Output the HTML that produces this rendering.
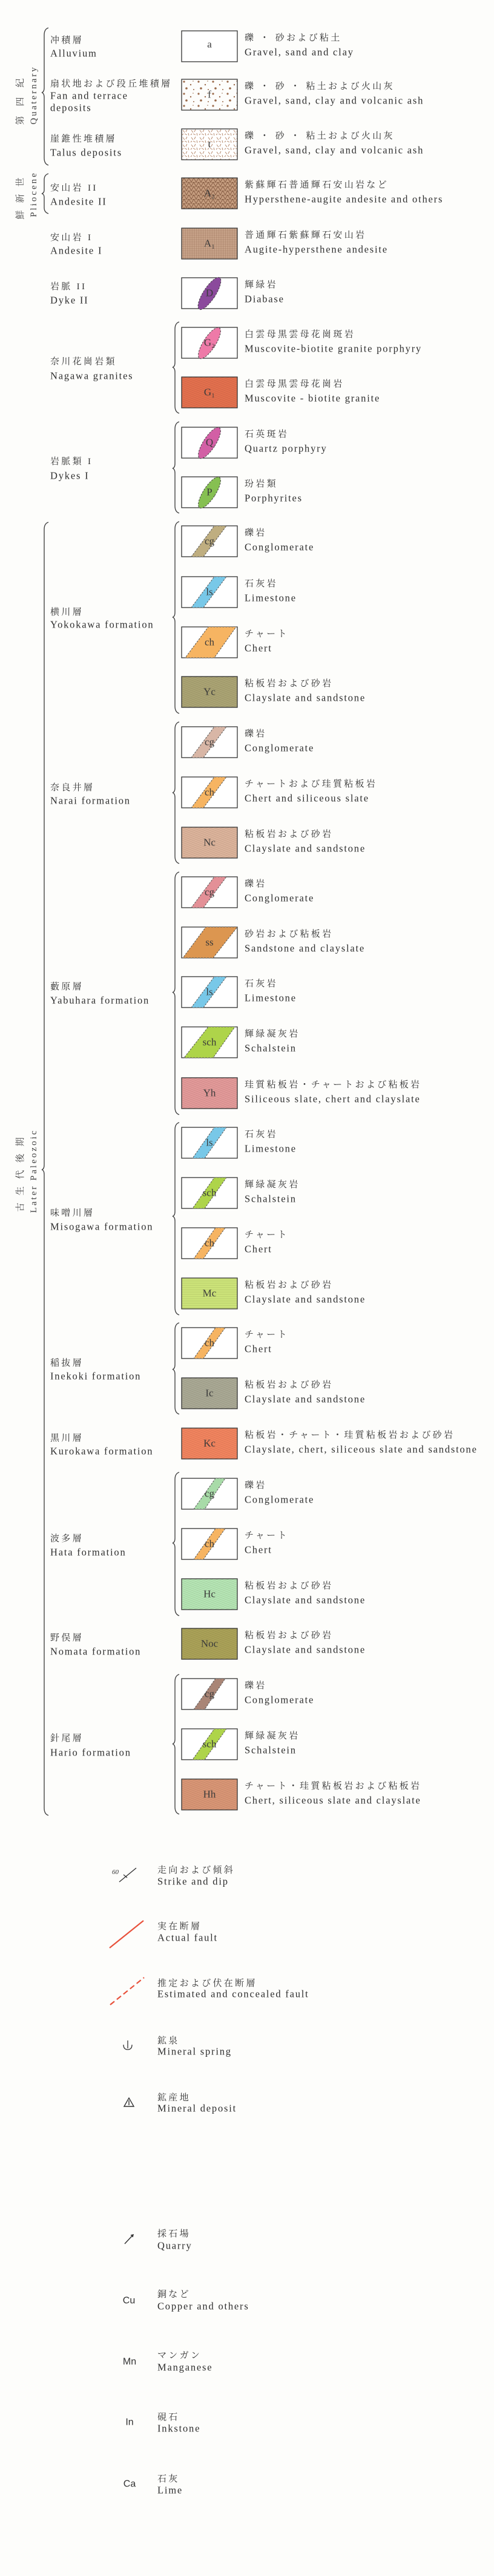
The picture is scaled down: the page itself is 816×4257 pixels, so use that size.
<!DOCTYPE html>
<html><head><meta charset="utf-8">
<style>
html,body{margin:0;padding:0;background:#fdfdfb;}
svg{display:block;}
.en{font-family:"Liberation Serif",serif;font-size:16.5px;letter-spacing:1.8px;fill:#2e2e2e;}
.jp{font-family:"Liberation Serif","Noto Serif CJK SC","Noto Sans CJK JP",serif;font-size:15px;letter-spacing:3.3px;fill:#333;}
.bl{font-family:"Liberation Serif",serif;font-size:17px;fill:#3a3a3a;text-anchor:middle;}
.vt{font-family:"Liberation Serif","Noto Serif CJK SC",serif;font-size:15px;fill:#444;text-anchor:middle;}
.sy{font-family:"Liberation Sans",sans-serif;font-size:16px;fill:#333;text-anchor:middle;}
.br{fill:none;stroke:#444;stroke-width:1.4;}
.bx{stroke:#333;stroke-width:1.3;}
</style></head>
<body>
<svg width="816" height="4257" viewBox="0 0 816 4257" xmlns="http://www.w3.org/2000/svg" dominant-baseline="central">
<defs>
<pattern id="dots" width="24" height="20" patternUnits="userSpaceOnUse">
<circle cx="4" cy="4" r="1.6" fill="#9a6a4a"/><circle cx="15" cy="9" r="1.2" fill="#9a6a4a"/><circle cx="8" cy="15" r="1.8" fill="#9a6a4a"/><circle cx="20" cy="17" r="1" fill="#9a6a4a"/><circle cx="19" cy="3" r="0.8" fill="#9a6a4a"/></pattern>
<pattern id="dash" width="14" height="12" patternUnits="userSpaceOnUse">
<path d="M2 2 l3 4 M9 1 l-2 4 M5 8 l4 2 M11 7 l1 4 M1 10 l2 -2" stroke="#b08060" stroke-width="0.9"/></pattern>
<pattern id="tri" width="8" height="7" patternUnits="userSpaceOnUse">
<path d="M0 7 L4 0 L8 7 M0 0 H8" stroke="#7a5038" stroke-width="0.8" fill="none"/></pattern>
<pattern id="grid" width="3" height="3" patternUnits="userSpaceOnUse">
<path d="M0 0 H3 M0 0 V3" stroke="#8a6048" stroke-width="0.6" fill="none"/></pattern>
<pattern id="hatch" width="3" height="3" patternUnits="userSpaceOnUse" patternTransform="rotate(70)">
<path d="M0 0 V3" stroke="rgba(60,40,20,0.28)" stroke-width="0.8"/></pattern>
<pattern id="hz" width="3" height="3" patternUnits="userSpaceOnUse">
<path d="M0 0 H3" stroke="rgba(60,60,20,0.3)" stroke-width="0.8"/></pattern>
</defs>

<path class="br" d="M80 46 Q73 48 73 58 L73 145 Q73 152 69 153 Q73 154 73 161 L73 261 Q73 271 80 273"/>
<path class="br" d="M80 287 Q73 289 73 297 L73 314 Q73 319 69 320 Q73 321 73 326 L73 343 Q73 351 80 353"/>
<path class="br" d="M80 863 Q73 865 73 875 L73 1925 Q73 1932 69 1933 Q73 1934 73 1941 L73 2988 Q73 2998 80 3000"/>

<path class="br" d="M296 532 Q289 534 289 544 L289 599 Q289 606 285 607 Q289 608 289 615 L289 671 Q289 681 296 683"/>
<path class="br" d="M296 697 Q289 699 289 709 L289 766 Q289 773 285 774 Q289 775 289 782 L289 836 Q289 846 296 848"/>
<path class="br" d="M296 862 Q289 864 289 874 L289 1012 Q289 1019 285 1020 Q289 1021 289 1028 L289 1167 Q289 1177 296 1179"/>
<path class="br" d="M296 1193 Q289 1195 289 1205 L289 1302 Q289 1309 285 1310 Q289 1311 289 1318 L289 1415 Q289 1425 296 1427"/>
<path class="br" d="M296 1441 Q289 1443 289 1453 L289 1632 Q289 1639 285 1640 Q289 1641 289 1648 L289 1830 Q289 1840 296 1842"/>
<path class="br" d="M296 1855 Q289 1857 289 1867 L289 2002 Q289 2009 285 2010 Q289 2011 289 2018 L289 2161 Q289 2171 296 2173"/>
<path class="br" d="M296 2186 Q289 2188 289 2198 L289 2255 Q289 2262 285 2263 Q289 2264 289 2271 L289 2325 Q289 2335 296 2337"/>
<path class="br" d="M296 2433 Q289 2435 289 2445 L289 2542 Q289 2549 285 2550 Q289 2551 289 2558 L289 2658 Q289 2668 296 2670"/>
<path class="br" d="M296 2767 Q289 2769 289 2779 L289 2874 Q289 2881 285 2882 Q289 2883 289 2890 L289 2986 Q289 2996 296 2998"/>

<text class="vt" transform="translate(34,160) rotate(-90)" letter-spacing="16">第四紀</text>
<text class="vt" transform="translate(56,157) rotate(-90)" letter-spacing="3" font-size="16">Quaternary</text>
<text class="vt" transform="translate(34,322) rotate(-90)" letter-spacing="12">鮮新世</text>
<text class="vt" transform="translate(56,321) rotate(-90)" letter-spacing="3" font-size="16">Pliocene</text>
<text class="vt" transform="translate(34,1935) rotate(-90)" letter-spacing="12">古生代後期</text>
<text class="vt" transform="translate(56,1935) rotate(-90)" letter-spacing="3" font-size="16">Later  Paleozoic</text>

<text class="jp" x="83" y="67" letter-spacing="18">冲積層</text><text class="en" x="83" y="88">Alluvium</text>
<text class="jp" x="83" y="139" letter-spacing="3">扇状地および段丘堆積層</text><text class="en" x="83" y="158">Fan  and  terrace</text><text class="en" x="83" y="178">deposits</text>
<text class="jp" x="83" y="230" letter-spacing="6">崖錐性堆積層</text><text class="en" x="83" y="252">Talus  deposits</text>
<text class="jp" x="83" y="311" letter-spacing="13">安山岩 II</text><text class="en" x="83" y="333">Andesite  II</text>
<text class="jp" x="83" y="393" letter-spacing="13">安山岩 I</text><text class="en" x="83" y="414">Andesite  I</text>
<text class="jp" x="83" y="474" letter-spacing="13">岩脈 II</text><text class="en" x="83" y="496">Dyke  II</text>
<text class="jp" x="83" y="598" letter-spacing="6">奈川花崗岩類</text><text class="en" x="83" y="621">Nagawa  granites</text>
<text class="jp" x="83" y="763" letter-spacing="13">岩脈類 I</text><text class="en" x="83" y="786">Dykes  I</text>
<text class="jp" x="83" y="1012" letter-spacing="18">横川層</text><text class="en" x="83" y="1032">Yokokawa  formation</text>
<text class="jp" x="83" y="1302" letter-spacing="13">奈良井層</text><text class="en" x="83" y="1323">Narai  formation</text>
<text class="jp" x="83" y="1631" letter-spacing="16">藪原層</text><text class="en" x="83" y="1653">Yabuhara  formation</text>
<text class="jp" x="83" y="2005" letter-spacing="13">味噌川層</text><text class="en" x="83" y="2027">Misogawa  formation</text>
<text class="jp" x="83" y="2253" letter-spacing="16">稲抜層</text><text class="en" x="83" y="2274">Inekoki  formation</text>
<text class="jp" x="83" y="2377" letter-spacing="18">黒川層</text><text class="en" x="83" y="2398">Kurokawa  formation</text>
<text class="jp" x="83" y="2543" letter-spacing="17">波多層</text><text class="en" x="83" y="2565">Hata  formation</text>
<text class="jp" x="83" y="2707" letter-spacing="17">野俣層</text><text class="en" x="83" y="2729">Nomata  formation</text>
<text class="jp" x="83" y="2873" letter-spacing="17">針尾層</text><text class="en" x="83" y="2896">Hario  formation</text>

<g transform="translate(300,51)"><rect class="bx" width="92" height="51" fill="#fff"/><text class="bl" x="46" y="22">a</text></g>
<g transform="translate(300,131)"><rect class="bx" width="92" height="51" fill="url(#dots)"/><text class="bl" x="46" y="25">f</text></g>
<g transform="translate(300,213)"><rect width="92" height="51" fill="#fff"/><rect class="bx" width="92" height="51" fill="url(#dash)"/><text class="bl" x="46" y="25">t</text></g>
<g transform="translate(300,294)"><rect width="92" height="51" fill="#c49c7e"/><rect class="bx" width="92" height="51" fill="url(#tri)"/><text class="bl" x="46" y="25">A₂</text></g>
<g transform="translate(300,377)"><rect width="92" height="51" fill="#caa68c"/><rect class="bx" width="92" height="51" fill="url(#grid)"/><text class="bl" x="46" y="25">A₁</text></g>
<g transform="translate(300,459)"><rect class="bx" width="92" height="51" fill="#fff"/><ellipse cx="46" cy="26" rx="10" ry="31" transform="rotate(33 46 26)" fill="#8b4a9c" stroke="#444" stroke-dasharray="3 2"/><text class="bl" x="46" y="25">D</text></g>
<g transform="translate(300,541)"><rect class="bx" width="92" height="51" fill="#fff"/><ellipse cx="46" cy="26" rx="10" ry="30" transform="rotate(33 46 26)" fill="#ee7aa8" stroke="#444" stroke-dasharray="3 2"/><text class="bl" x="46" y="25">G₂</text></g>
<g transform="translate(300,623)"><rect width="92" height="51" fill="#e4704e"/><rect class="bx" width="92" height="51" fill="url(#hatch)"/><text class="bl" x="46" y="25">G₁</text></g>
<g transform="translate(300,706)"><rect class="bx" width="92" height="51" fill="#fff"/><ellipse cx="46" cy="26" rx="10" ry="30" transform="rotate(33 46 26)" fill="#d25fa5" stroke="#444" stroke-dasharray="3 2"/><text class="bl" x="46" y="25">Q</text></g>
<g transform="translate(300,788)"><rect class="bx" width="92" height="51" fill="#fff"/><ellipse cx="46" cy="26" rx="10" ry="30" transform="rotate(33 46 26)" fill="#86c052" stroke="#444" stroke-dasharray="3 2"/><text class="bl" x="46" y="25">P</text></g>

<g transform="translate(300,869)"><rect class="bx" width="92" height="51" fill="#fff"/><polygon points="16,51 36,51 74,0 54,0" fill="#bfae80" stroke="#555" stroke-dasharray="3 2"/><text class="bl" x="46" y="25">cg</text></g>
<g transform="translate(300,953)"><rect class="bx" width="92" height="51" fill="#fff"/><polygon points="16,51 36,51 74,0 54,0" fill="#78c8e8" stroke="#555" stroke-dasharray="3 2"/><text class="bl" x="46" y="25">ls</text></g>
<g transform="translate(300,1036)"><rect class="bx" width="92" height="51" fill="#fff"/><polygon points="6,51 54,51 90,0 44,0" fill="#f6b462" stroke="#555" stroke-dasharray="3 2"/><text class="bl" x="46" y="25">ch</text></g>
<g transform="translate(300,1118)"><rect width="92" height="51" fill="#aaa474"/><rect class="bx" width="92" height="51" fill="url(#hatch)"/><text class="bl" x="46" y="25">Yc</text></g>
<g transform="translate(300,1201)"><rect class="bx" width="92" height="51" fill="#fff"/><polygon points="16,51 36,51 74,0 54,0" fill="#d8b6a6" stroke="#555" stroke-dasharray="3 2"/><text class="bl" x="46" y="25">cg</text></g>
<g transform="translate(300,1284)"><rect class="bx" width="92" height="51" fill="#fff"/><polygon points="16,51 36,51 74,0 54,0" fill="#f6b462" stroke="#555" stroke-dasharray="3 2"/><text class="bl" x="46" y="25">ch</text></g>
<g transform="translate(300,1367)"><rect width="92" height="51" fill="#dcb49c"/><rect class="bx" width="92" height="51" fill="url(#hatch)"/><text class="bl" x="46" y="25">Nc</text></g>
<g transform="translate(300,1449)"><rect class="bx" width="92" height="51" fill="#fff"/><polygon points="16,51 36,51 74,0 54,0" fill="#e39097" stroke="#555" stroke-dasharray="3 2"/><text class="bl" x="46" y="25">cg</text></g>
<g transform="translate(300,1532)"><rect class="bx" width="92" height="51" fill="#fff"/><polygon points="2,51 52,51 92,0 40,0" fill="#dc9650" stroke="#555" stroke-dasharray="3 2"/><text class="bl" x="46" y="25">ss</text></g>
<g transform="translate(300,1614)"><rect class="bx" width="92" height="51" fill="#fff"/><polygon points="16,51 36,51 74,0 54,0" fill="#78c8e8" stroke="#555" stroke-dasharray="3 2"/><text class="bl" x="46" y="25">ls</text></g>
<g transform="translate(300,1697)"><rect class="bx" width="92" height="51" fill="#fff"/><polygon points="4,51 52,51 88,0 44,0" fill="#aed44a" stroke="#555" stroke-dasharray="3 2"/><text class="bl" x="46" y="25">sch</text></g>
<g transform="translate(300,1781)"><rect width="92" height="51" fill="#e39a9a"/><rect class="bx" width="92" height="51" fill="url(#hatch)"/><text class="bl" x="46" y="25">Yh</text></g>
<g transform="translate(300,1863)"><rect class="bx" width="92" height="51" fill="#fff"/><polygon points="18,51 38,51 74,0 54,0" fill="#78c8e8" stroke="#555" stroke-dasharray="3 2"/><text class="bl" x="46" y="25">ls</text></g>
<g transform="translate(300,1946)"><rect class="bx" width="92" height="51" fill="#fff"/><polygon points="18,51 38,51 74,0 54,0" fill="#aed44a" stroke="#555" stroke-dasharray="3 2"/><text class="bl" x="46" y="25">sch</text></g>
<g transform="translate(300,2029)"><rect class="bx" width="92" height="51" fill="#fff"/><polygon points="20,51 36,51 72,0 56,0" fill="#f6b462" stroke="#555" stroke-dasharray="3 2"/><text class="bl" x="46" y="25">ch</text></g>
<g transform="translate(300,2112)"><rect width="92" height="51" fill="#cde57a"/><rect class="bx" width="92" height="51" fill="url(#hz)"/><text class="bl" x="46" y="25">Mc</text></g>
<g transform="translate(300,2194)"><rect class="bx" width="92" height="51" fill="#fff"/><polygon points="20,51 36,51 72,0 56,0" fill="#f6b462" stroke="#555" stroke-dasharray="3 2"/><text class="bl" x="46" y="25">ch</text></g>
<g transform="translate(300,2277)"><rect width="92" height="51" fill="#a9a995"/><rect class="bx" width="92" height="51" fill="url(#hatch)"/><text class="bl" x="46" y="25">Ic</text></g>
<g transform="translate(300,2360)"><rect width="92" height="51" fill="#f2845f"/><rect class="bx" width="92" height="51" fill="url(#hatch)"/><text class="bl" x="46" y="25">Kc</text></g>
<g transform="translate(300,2443)"><rect class="bx" width="92" height="51" fill="#fff"/><polygon points="20,51 38,51 72,0 56,0" fill="#a8dba8" stroke="#555" stroke-dasharray="3 2"/><text class="bl" x="46" y="25">cg</text></g>
<g transform="translate(300,2526)"><rect class="bx" width="92" height="51" fill="#fff"/><polygon points="20,51 36,51 72,0 56,0" fill="#f6b462" stroke="#555" stroke-dasharray="3 2"/><text class="bl" x="46" y="25">ch</text></g>
<g transform="translate(300,2609)"><rect width="92" height="51" fill="#b5e6b5"/><rect class="bx" width="92" height="51" fill="url(#hatch)"/><text class="bl" x="46" y="25">Hc</text></g>
<g transform="translate(300,2691)"><rect width="92" height="51" fill="#aaa258"/><rect class="bx" width="92" height="51" fill="url(#hatch)"/><text class="bl" x="46" y="25">Noc</text></g>
<g transform="translate(300,2774)"><rect class="bx" width="92" height="51" fill="#fff"/><polygon points="20,51 38,51 72,0 56,0" fill="#a98576" stroke="#555" stroke-dasharray="3 2"/><text class="bl" x="46" y="25">cg</text></g>
<g transform="translate(300,2857)"><rect class="bx" width="92" height="51" fill="#fff"/><polygon points="18,51 38,51 74,0 54,0" fill="#aed44a" stroke="#555" stroke-dasharray="3 2"/><text class="bl" x="46" y="25">sch</text></g>
<g transform="translate(300,2940)"><rect width="92" height="51" fill="#d99676"/><rect class="bx" width="92" height="51" fill="url(#hatch)"/><text class="bl" x="46" y="25">Hh</text></g>

<g>
<text class="jp" x="404" y="63">礫 ・ 砂および粘土</text><text class="en" x="404" y="86">Gravel, sand and clay</text>
<text class="jp" x="404" y="143">礫 ・ 砂 ・ 粘土および火山灰</text><text class="en" x="404" y="166">Gravel, sand, clay and volcanic ash</text>
<text class="jp" x="404" y="225">礫 ・ 砂 ・ 粘土および火山灰</text><text class="en" x="404" y="248">Gravel, sand, clay and volcanic ash</text>
<text class="jp" x="404" y="306">紫蘇輝石普通輝石安山岩など</text><text class="en" x="404" y="329">Hypersthene-augite andesite and others</text>
<text class="jp" x="404" y="389">普通輝石紫蘇輝石安山岩</text><text class="en" x="404" y="412">Augite-hypersthene andesite</text>
<text class="jp" x="404" y="471" letter-spacing="14">輝緑岩</text><text class="en" x="404" y="494">Diabase</text>
<text class="jp" x="404" y="553">白雲母黒雲母花崗斑岩</text><text class="en" x="404" y="576">Muscovite-biotite granite porphyry</text>
<text class="jp" x="404" y="635">白雲母黒雲母花崗岩</text><text class="en" x="404" y="658">Muscovite - biotite granite</text>
<text class="jp" x="404" y="718" letter-spacing="14">石英斑岩</text><text class="en" x="404" y="741">Quartz porphyry</text>
<text class="jp" x="404" y="800" letter-spacing="14">玢岩類</text><text class="en" x="404" y="823">Porphyrites</text>
<text class="jp" x="404" y="881" letter-spacing="22">礫岩</text><text class="en" x="404" y="904">Conglomerate</text>
<text class="jp" x="404" y="965" letter-spacing="14">石灰岩</text><text class="en" x="404" y="988">Limestone</text>
<text class="jp" x="404" y="1048" letter-spacing="13">チャート</text><text class="en" x="404" y="1071">Chert</text>
<text class="jp" x="404" y="1130">粘板岩および砂岩</text><text class="en" x="404" y="1153">Clayslate and sandstone</text>
<text class="jp" x="404" y="1213" letter-spacing="22">礫岩</text><text class="en" x="404" y="1236">Conglomerate</text>
<text class="jp" x="404" y="1296">チャートおよび珪質粘板岩</text><text class="en" x="404" y="1319">Chert and siliceous slate</text>
<text class="jp" x="404" y="1379">粘板岩および砂岩</text><text class="en" x="404" y="1402">Clayslate and sandstone</text>
<text class="jp" x="404" y="1461" letter-spacing="22">礫岩</text><text class="en" x="404" y="1484">Conglomerate</text>
<text class="jp" x="404" y="1544">砂岩および粘板岩</text><text class="en" x="404" y="1567">Sandstone and clayslate</text>
<text class="jp" x="404" y="1626" letter-spacing="14">石灰岩</text><text class="en" x="404" y="1649">Limestone</text>
<text class="jp" x="404" y="1709" letter-spacing="8">輝緑凝灰岩</text><text class="en" x="404" y="1732">Schalstein</text>
<text class="jp" x="404" y="1793">珪質粘板岩・チャートおよび粘板岩</text><text class="en" x="404" y="1816">Siliceous slate, chert and clayslate</text>
<text class="jp" x="404" y="1875" letter-spacing="14">石灰岩</text><text class="en" x="404" y="1898">Limestone</text>
<text class="jp" x="404" y="1958" letter-spacing="8">輝緑凝灰岩</text><text class="en" x="404" y="1981">Schalstein</text>
<text class="jp" x="404" y="2041" letter-spacing="13">チャート</text><text class="en" x="404" y="2064">Chert</text>
<text class="jp" x="404" y="2124">粘板岩および砂岩</text><text class="en" x="404" y="2147">Clayslate and sandstone</text>
<text class="jp" x="404" y="2206" letter-spacing="13">チャート</text><text class="en" x="404" y="2229">Chert</text>
<text class="jp" x="404" y="2289">粘板岩および砂岩</text><text class="en" x="404" y="2312">Clayslate and sandstone</text>
<text class="jp" x="404" y="2372">粘板岩・チャート・珪質粘板岩および砂岩</text><text class="en" x="404" y="2395">Clayslate, chert, siliceous slate and sandstone</text>
<text class="jp" x="404" y="2455" letter-spacing="22">礫岩</text><text class="en" x="404" y="2478">Conglomerate</text>
<text class="jp" x="404" y="2538" letter-spacing="13">チャート</text><text class="en" x="404" y="2561">Chert</text>
<text class="jp" x="404" y="2621">粘板岩および砂岩</text><text class="en" x="404" y="2644">Clayslate and sandstone</text>
<text class="jp" x="404" y="2703">粘板岩および砂岩</text><text class="en" x="404" y="2726">Clayslate and sandstone</text>
<text class="jp" x="404" y="2786" letter-spacing="22">礫岩</text><text class="en" x="404" y="2809">Conglomerate</text>
<text class="jp" x="404" y="2869" letter-spacing="8">輝緑凝灰岩</text><text class="en" x="404" y="2892">Schalstein</text>
<text class="jp" x="404" y="2952">チャート・珪質粘板岩および粘板岩</text><text class="en" x="404" y="2975">Chert, siliceous slate and clayslate</text>
</g>

<text x="185" y="3094" font-family="Liberation Serif,serif" font-style="italic" font-size="11" fill="#333">60</text>
<line x1="197" y1="3110" x2="225" y2="3087" stroke="#333" stroke-width="1.4"/>
<line x1="204" y1="3098" x2="210" y2="3103" stroke="#333" stroke-width="1.2"/>
<text class="jp" x="260" y="3091" letter-spacing="5">走向および傾斜</text><text class="en" x="260" y="3109">Strike and dip</text>

<line x1="181" y1="3219" x2="237" y2="3174" stroke="#e8503a" stroke-width="2.2"/>
<text class="jp" x="260" y="3184" letter-spacing="12">実在断層</text><text class="en" x="260" y="3202">Actual fault</text>

<line x1="182" y1="3313" x2="238" y2="3268" stroke="#e8503a" stroke-width="2.2" stroke-dasharray="9 5"/>
<text class="jp" x="260" y="3278" letter-spacing="2">推定および伏在断層</text><text class="en" x="260" y="3295">Estimated and concealed fault</text>

<path d="M211 3372 V3385 M204 3379 Q204 3387 211 3387 Q218 3387 218 3379" fill="none" stroke="#333" stroke-width="1.3"/>
<text class="jp" x="260" y="3373" letter-spacing="20">鉱泉</text><text class="en" x="260" y="3390">Mineral spring</text>

<path d="M205 3481 L213 3467 L221 3481 Z M213 3471 V3479" fill="none" stroke="#333" stroke-width="1.4"/>
<text class="jp" x="260" y="3467" letter-spacing="16">鉱産地</text><text class="en" x="260" y="3484">Mineral deposit</text>

<path d="M206 3708 L220 3693 M216 3694 L220 3693 L219 3697" fill="none" stroke="#333" stroke-width="1.5"/>
<text class="jp" x="260" y="3692" letter-spacing="16">採石場</text><text class="en" x="260" y="3711">Quarry</text>

<text class="sy" x="213" y="3802">Cu</text>
<text class="jp" x="260" y="3792" letter-spacing="18">銅など</text><text class="en" x="260" y="3811">Copper and others</text>
<text class="sy" x="214" y="3903">Mn</text>
<text class="jp" x="260" y="3893" letter-spacing="18">マンガン</text><text class="en" x="260" y="3912">Manganese</text>
<text class="sy" x="214" y="4003">In</text>
<text class="jp" x="260" y="3995" letter-spacing="24">硯石</text><text class="en" x="260" y="4013">Inkstone</text>
<text class="sy" x="214" y="4105">Ca</text>
<text class="jp" x="260" y="4097" letter-spacing="20">石灰</text><text class="en" x="260" y="4115">Lime</text>
</svg>
</body></html>
